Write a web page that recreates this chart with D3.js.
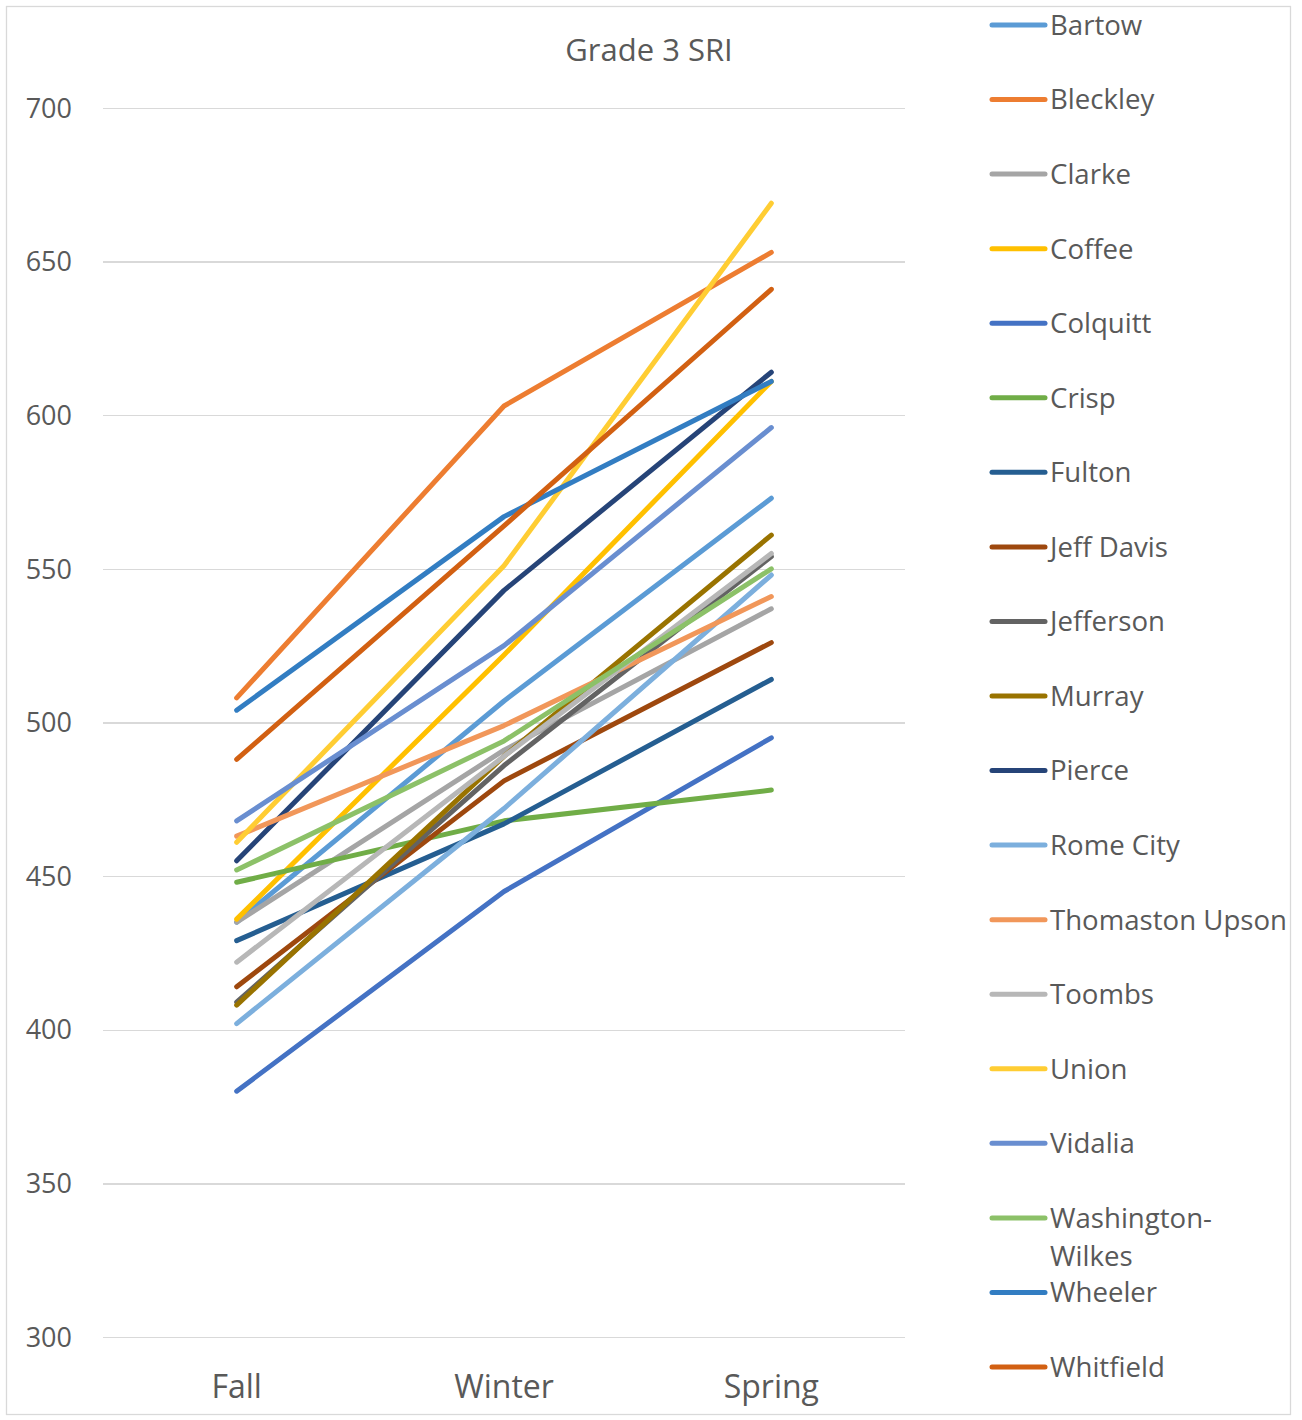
<!DOCTYPE html>
<html>
<head>
<meta charset="utf-8">
<title>Grade 3 SRI</title>
<style>
body { margin: 0; background: #fff; }
text { font-family: "Open Sans", "Noto Sans", sans-serif; fill: #595959; }
.grid line { stroke: #d9d9d9; stroke-width: 1.3; shape-rendering: crispEdges; }
.grid path { stroke-width: 0; }
</style>
</head>
<body>
<script src="https://d3js.org/d3.v7.min.js"></script>
<script>

// data
const periods = ["Fall", "Winter", "Spring"];
const districts = ["Bartow", "Bleckley", "Clarke", "Coffee", "Colquitt", "Crisp", "Fulton",
  "Jeff Davis", "Jefferson", "Murray", "Pierce", "Rome City", "Thomaston Upson", "Toombs",
  "Union", "Vidalia", "Washington-Wilkes", "Wheeler", "Whitfield"];
const fall   = [435, 508, 435, 436, 380, 448, 429, 414, 409, 408, 455, 402, 463, 422, 461, 468, 452, 504, 488];
const winter = [507, 603, 491, 522, 445, 468, 467, 481, 486, 489, 543, 472, 499, 489, 551, 525, 494, 567, 564];
const spring = [573, 653, 537, 611, 495, 478, 514, 526, 554, 561, 614, 548, 541, 555, 669, 596, 550, 611, 641];
const colors = ["#5b9bd5", "#ed7d31", "#a5a5a5", "#ffc000", "#4472c4", "#70ad47", "#255e91",
  "#9e480e", "#636363", "#997300", "#264478", "#7cafdd", "#f1975a", "#b7b7b7",
  "#ffcd33", "#698ed0", "#8cc168", "#327dc2", "#d26012"];
const yTicks = [300, 350, 400, 450, 500, 550, 600, 650, 700];

const width = 1302, height = 1420;

const svg = d3.select("body").append("svg")
    .attr("width", width)
    .attr("height", height);

// chart border
svg.append("rect")
    .attr("x", 6.5).attr("y", 6.5)
    .attr("width", 1284).attr("height", 1408)
    .attr("fill", "none")
    .attr("stroke", "#d9d9d9")
    .attr("stroke-width", 1.3);

const x = d3.scalePoint()
    .domain(periods)
    .range([103, 905])
    .padding(0.5);

const y = d3.scaleLinear()
    .domain([300, 700])
    .range([1337, 108]);

// gridlines
svg.append("g")
    .attr("class", "grid")
    .attr("transform", "translate(103,0)")
    .call(d3.axisLeft(y).tickValues(yTicks).tickSize(-802).tickFormat(""));

// y labels
svg.selectAll(".ylab")
    .data(yTicks)
  .enter().append("text")
    .attr("class", "ylab")
    .attr("x", 72)
    .attr("y", d => y(d))
    .attr("dy", "0.36em")
    .attr("text-anchor", "end")
    .style("font-size", "27px")
    .text(d => d);

// x labels
svg.selectAll(".xlab")
    .data(periods)
  .enter().append("text")
    .attr("class", "xlab")
    .attr("x", d => x(d))
    .attr("y", 1386)
    .attr("dy", "0.36em")
    .attr("text-anchor", "middle")
    .style("font-size", "32px")
    .text(d => d);

// title
svg.append("text")
    .attr("x", 649)
    .attr("y", 50)
    .attr("dy", "0.36em")
    .attr("text-anchor", "middle")
    .style("font-size", "31px")
    .text("Grade 3 SRI");

const series = districts.map((name, i) => ({
  name: name,
  color: colors[i],
  values: [fall[i], winter[i], spring[i]]
}));

const line = d3.line()
    .x((d, i) => x(periods[i]))
    .y(d => y(d));

svg.selectAll(".series")
    .data(series)
  .enter().append("path")
    .attr("class", "series")
    .attr("d", d => line(d.values))
    .attr("fill", "none")
    .attr("stroke", d => d.color)
    .attr("stroke-width", 5)
    .attr("stroke-linecap", "round")
    .attr("stroke-linejoin", "round");

// legend
const legY = d3.scaleLinear().domain([0, districts.length - 1]).range([25, 1367]);

const leg = svg.selectAll(".leg")
    .data(series)
  .enter().append("g")
    .attr("class", "leg")
    .attr("transform", (d, i) => "translate(0," + legY(i) + ")");

leg.append("line")
    .attr("x1", 992).attr("x2", 1045)
    .attr("stroke", d => d.color)
    .attr("stroke-width", 5)
    .attr("stroke-linecap", "round");

leg.append("text")
    .attr("x", 1050)
    .attr("dy", "0.36em")
    .style("font-size", "27.6px")
    .each(function(d) {
      const t = d3.select(this);
      if (d.name === "Washington-Wilkes") {
        t.append("tspan").attr("x", 1050).text("Washington-");
        t.append("tspan").attr("x", 1050).attr("dy", "1.4em").text("Wilkes");
      } else {
        t.text(d.name);
      }
    });

</script>
</body>
</html>
